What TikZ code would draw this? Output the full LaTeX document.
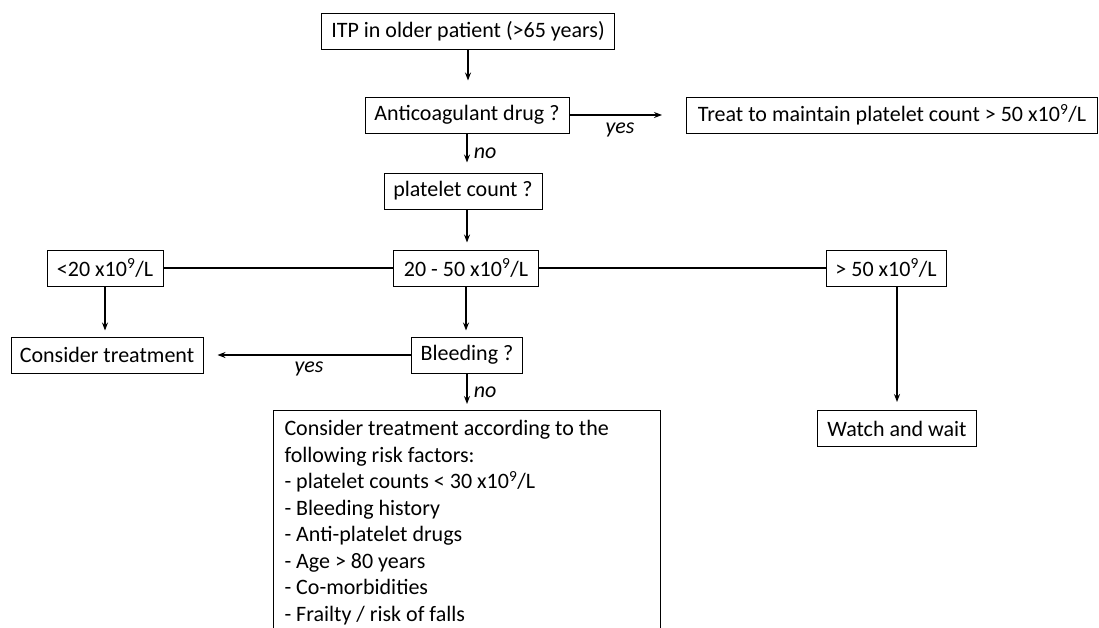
\documentclass[tikz,border=0pt]{standalone}
\usepackage{fontspec}
\setmainfont{Carlito}
\usetikzlibrary{arrows.meta,positioning}

\begin{document}
\begin{tikzpicture}[
    x=1pt, y=-1pt,
    >={Stealth[length=8pt,width=6pt]},
    box/.style={draw, line width=1pt, minimum height=36pt, inner xsep=8pt,
                font=\fontsize{22}{26.5}\selectfont},
    vec/.style={->, line width=1.2pt},
    link/.style={line width=1.2pt},
    ans/.style={font=\fontsize{22}{27}\selectfont\itshape}
  ]
  \useasboundingbox (0,0) rectangle (1099,627);

  %% Start and anticoagulant question
  \node (itp)   [box, minimum width=293pt] at (468,31) {ITP in older patient (>65 years)};
  \node (anti)  [box, minimum width=204pt] at (467,115) {Anticoagulant drug ?};
  \node (treat) [box, minimum width=411pt, anchor=west] at (686,115)
        {Treat to maintain platelet count > 50 x10\textsuperscript{9}/L};
  \node (plt)   [box, minimum width=158pt] at (463,191) {platelet count ?};

  %% Platelet ranges
  \node (mid)  [box, minimum width=145pt] at (466,268) {20 - 50 x10\textsuperscript{9}/L};
  \node (lt20) [box, minimum width=116pt] at (105,268) {<20 x10\textsuperscript{9}/L};
  \node (gt50) [box, minimum width=120pt] at (886,268) {> 50 x10\textsuperscript{9}/L};

  %% Outcomes
  \node (cons)  [box, minimum width=192pt] at (107,355) {Consider treatment};
  \node (bleed) [box, minimum width=111pt] at (467,355) {Bleeding ?};
  \node (watch) [box, minimum width=159pt, anchor=north] at (897,410) {Watch and wait};
  \node (risk)  [box, anchor=north west, text width=365pt, align=flush left,
                 inner xsep=11pt, inner ysep=10pt] at (273,410)
        {Consider treatment according to the\\
         following risk factors:\\
         - platelet counts < 30 x10\textsuperscript{9}/L\\
         - Bleeding history\\
         - Anti-platelet drugs\\
         - Age > 80 years\\
         - Co-morbidities\\
         - Frailty / risk of falls\\
         \mbox{}};

  %% Connectors
  \draw[vec, shorten >=16pt] (itp.south) -- (itp.south |- anti.north);
  \draw[vec, shorten >=10pt] (anti.south) -- node[right, ans, xshift=3pt]{no} (anti.south |- plt.north);
  \draw[vec, shorten >=24pt] (anti.east) -- (treat.west);
  \node (yes1) [ans] at (620,130) {yes};
  \draw[vec, shorten >=7pt] (anti.south |- plt.south) -- (anti.south |- mid.north);
  \draw[link] (lt20) -- (mid);
  \draw[link] (mid) -- (gt50);
  \draw[vec, shorten >=6pt] (lt20.south) -- (lt20.south |- cons.north);
  \draw[vec, shorten >=6pt] (mid.south) -- (mid.south |- bleed.north);
  \draw[vec, shorten >=14pt] (bleed.west) -- (cons.east);
  \node (yes2) [ans] at (309,369) {yes};
  \draw[vec, shorten >=6pt] (bleed.south) -- node[right, ans, xshift=3pt]{no} (bleed.south |- risk.north);
  \draw[vec, shorten >=8pt] (watch.north |- gt50.south) -- (watch.north);

\end{tikzpicture}
\end{document}
